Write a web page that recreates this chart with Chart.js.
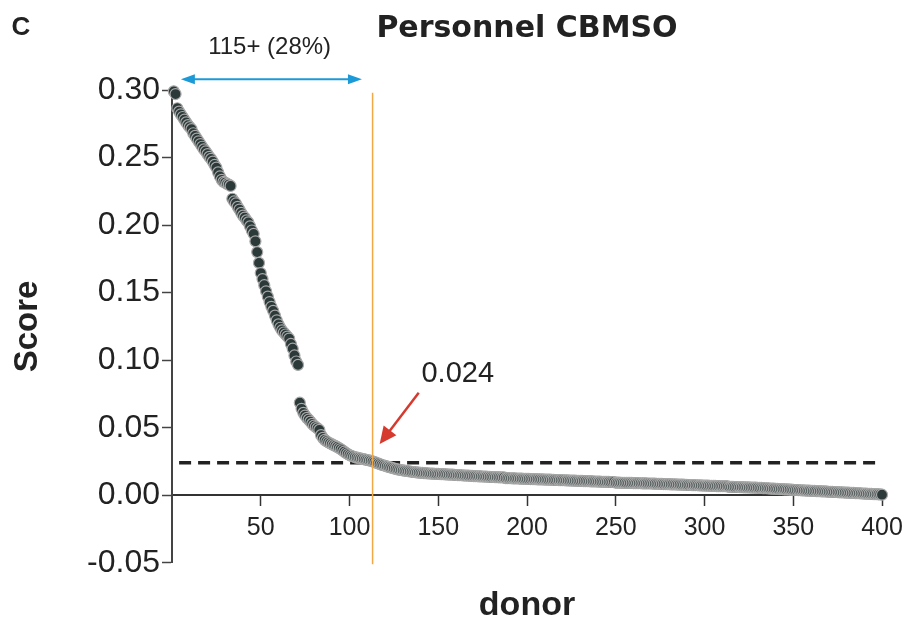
<!DOCTYPE html>
<html>
<head>
<meta charset="utf-8">
<script src="https://cdn.jsdelivr.net/npm/chart.js@4.4.1/dist/chart.umd.min.js"></script>
<style>
  html, body { margin: 0; padding: 0; background: #fff; }
  #wrap { width: 906px; height: 619px; position: relative; }
</style>
</head>
<body>
<div id="wrap"><canvas id="scoreChart"></canvas></div>
<script>
// Score per donor, sorted (donor 1..400)
var scores = [
  0.2990, 0.2970, 0.2865, 0.2840, 0.2820, 0.2800, 0.2780, 0.2760, 0.2740, 0.2725,
  0.2710, 0.2680, 0.2660, 0.2640, 0.2620, 0.2600, 0.2580, 0.2560, 0.2545, 0.2525,
  0.2505, 0.2490, 0.2470, 0.2445, 0.2425, 0.2390, 0.2360, 0.2335, 0.2320, 0.2315,
  0.2305, 0.2300, 0.2290, 0.2195, 0.2175, 0.2160, 0.2135, 0.2115, 0.2090, 0.2070,
  0.2055, 0.2035, 0.2020, 0.1990, 0.1960, 0.1935, 0.1880, 0.1800, 0.1720, 0.1645,
  0.1600, 0.1555, 0.1510, 0.1470, 0.1430, 0.1395, 0.1365, 0.1330, 0.1295, 0.1265,
  0.1240, 0.1220, 0.1205, 0.1190, 0.1175, 0.1160, 0.1120, 0.1085, 0.1035, 0.0990,
  0.0965, 0.0685, 0.0640, 0.0610, 0.0590, 0.0573, 0.0560, 0.0545, 0.0528, 0.0515,
  0.0505, 0.0495, 0.0484, 0.0445, 0.0425, 0.0410, 0.0400, 0.0392, 0.0385, 0.0378,
  0.0371, 0.0365, 0.0358, 0.0350, 0.0342, 0.0333, 0.0323, 0.0313, 0.0305, 0.0298,
  0.0292, 0.0287, 0.0283, 0.0279, 0.0276, 0.0273, 0.0270, 0.0267, 0.0264, 0.0261,
  0.0258, 0.0255, 0.0251, 0.0246, 0.0241, 0.0236, 0.0231, 0.0226, 0.0222, 0.0218,
  0.0214, 0.0210, 0.0206, 0.0202, 0.0198, 0.0195, 0.0192, 0.0189, 0.0187, 0.0184,
  0.0182, 0.0180, 0.0178, 0.0176, 0.0174, 0.0172, 0.0171, 0.0169, 0.0168, 0.0166,
  0.0165, 0.0164, 0.0163, 0.0162, 0.0161, 0.0160, 0.0160, 0.0159, 0.0158, 0.0158,
  0.0157, 0.0156, 0.0156, 0.0155, 0.0154, 0.0153, 0.0153, 0.0152, 0.0151, 0.0150,
  0.0149, 0.0149, 0.0148, 0.0147, 0.0146, 0.0146, 0.0145, 0.0144, 0.0143, 0.0142,
  0.0142, 0.0141, 0.0140, 0.0140, 0.0139, 0.0138, 0.0138, 0.0137, 0.0136, 0.0135,
  0.0135, 0.0134, 0.0134, 0.0133, 0.0133, 0.0132, 0.0132, 0.0127, 0.0127, 0.0126,
  0.0126, 0.0125, 0.0125, 0.0124, 0.0124, 0.0123, 0.0123, 0.0122, 0.0122, 0.0121,
  0.0121, 0.0120, 0.0120, 0.0119, 0.0119, 0.0118, 0.0118, 0.0117, 0.0117, 0.0116,
  0.0116, 0.0115, 0.0115, 0.0114, 0.0114, 0.0113, 0.0113, 0.0112, 0.0112, 0.0111,
  0.0111, 0.0110, 0.0110, 0.0109, 0.0109, 0.0108, 0.0108, 0.0107, 0.0107, 0.0106,
  0.0106, 0.0105, 0.0105, 0.0104, 0.0104, 0.0103, 0.0103, 0.0102, 0.0102, 0.0101,
  0.0101, 0.0100, 0.0100, 0.0099, 0.0099, 0.0099, 0.0098, 0.0098, 0.0098, 0.0093,
  0.0093, 0.0093, 0.0092, 0.0092, 0.0092, 0.0091, 0.0091, 0.0091, 0.0091, 0.0090,
  0.0090, 0.0090, 0.0089, 0.0089, 0.0088, 0.0088, 0.0088, 0.0087, 0.0087, 0.0087,
  0.0086, 0.0086, 0.0085, 0.0085, 0.0084, 0.0084, 0.0083, 0.0083, 0.0082, 0.0082,
  0.0081, 0.0081, 0.0080, 0.0080, 0.0079, 0.0079, 0.0078, 0.0078, 0.0077, 0.0077,
  0.0076, 0.0076, 0.0075, 0.0075, 0.0074, 0.0074, 0.0073, 0.0073, 0.0072, 0.0072,
  0.0071, 0.0071, 0.0070, 0.0070, 0.0069, 0.0069, 0.0068, 0.0068, 0.0068, 0.0067,
  0.0067, 0.0067, 0.0066, 0.0062, 0.0062, 0.0062, 0.0061, 0.0061, 0.0061, 0.0060,
  0.0060, 0.0059, 0.0059, 0.0058, 0.0058, 0.0057, 0.0057, 0.0056, 0.0056, 0.0055,
  0.0054, 0.0054, 0.0053, 0.0052, 0.0052, 0.0051, 0.0050, 0.0049, 0.0049, 0.0048,
  0.0047, 0.0046, 0.0046, 0.0045, 0.0044, 0.0043, 0.0043, 0.0042, 0.0041, 0.0040,
  0.0039, 0.0039, 0.0038, 0.0037, 0.0036, 0.0036, 0.0035, 0.0034, 0.0034, 0.0033,
  0.0032, 0.0032, 0.0031, 0.0030, 0.0030, 0.0029, 0.0028, 0.0028, 0.0027, 0.0026,
  0.0026, 0.0025, 0.0024, 0.0024, 0.0023, 0.0022, 0.0022, 0.0021, 0.0020, 0.0019,
  0.0019, 0.0018, 0.0017, 0.0017, 0.0016, 0.0015, 0.0015, 0.0014, 0.0013, 0.0012,
  0.0012, 0.0011, 0.0010, 0.0010, 0.0009, 0.0008, 0.0008, 0.0007, 0.0006, 0.0004
];
var donors = scores.map(function (s, i) { return i + 1; });

var xTicks = [50, 100, 150, 200, 250, 300, 350, 400];
var yTicks = [-0.05, 0.00, 0.05, 0.10, 0.15, 0.20, 0.25, 0.30];

var cutoffScore = 0.024;   // dashed threshold
var cutoffDonor = 113;     // orange vertical line
var aboveLabel = "115+ (28%)";

var FONT = "'Liberation Sans', Arial, sans-serif";

function arrowHead(ctx, x1, y1, x2, y2, len, half) {
  var a = Math.atan2(y2 - y1, x2 - x1);
  ctx.beginPath();
  ctx.moveTo(x2, y2);
  ctx.lineTo(x2 - len * Math.cos(a) + half * Math.sin(a), y2 - len * Math.sin(a) - half * Math.cos(a));
  ctx.lineTo(x2 - len * Math.cos(a) - half * Math.sin(a), y2 - len * Math.sin(a) + half * Math.cos(a));
  ctx.closePath();
  ctx.fill();
}

// extra marks: threshold line, cutoff line, arrows, labels
var annotations = {
  id: "annotations",
  beforeDatasetsDraw: function (chart) {
    var ctx = chart.ctx, x = chart.scales.x, y = chart.scales.y;
    ctx.save();
    ctx.strokeStyle = "#222";
    ctx.lineWidth = 3.5;
    ctx.setLineDash([12, 7]);
    ctx.beginPath();
    ctx.moveTo(x.getPixelForValue(4), y.getPixelForValue(cutoffScore));
    ctx.lineTo(x.getPixelForValue(400), y.getPixelForValue(cutoffScore));
    ctx.stroke();
    ctx.restore();
  },
  afterDatasetsDraw: function (chart) {
    var ctx = chart.ctx, x = chart.scales.x, y = chart.scales.y;
    ctx.save();

    // orange cutoff line
    ctx.strokeStyle = "#f0a848";
    ctx.lineWidth = 1.5;
    ctx.beginPath();
    ctx.moveTo(x.getPixelForValue(cutoffDonor), y.getPixelForValue(0.298));
    ctx.lineTo(x.getPixelForValue(cutoffDonor), y.getPixelForValue(-0.051));
    ctx.stroke();

    // blue double arrow
    var bx1 = x.getPixelForValue(5), bx2 = x.getPixelForValue(107), by = y.getPixelForValue(0.308);
    ctx.strokeStyle = "#1b9ad7";
    ctx.fillStyle = "#1b9ad7";
    ctx.lineWidth = 2;
    ctx.beginPath();
    ctx.moveTo(bx1 + 10, by);
    ctx.lineTo(bx2 - 10, by);
    ctx.stroke();
    arrowHead(ctx, bx2, by, bx1, by, 14, 5);
    arrowHead(ctx, bx1, by, bx2, by, 14, 5);

    // red arrow to the threshold
    var rx1 = x.getPixelForValue(139), ry1 = y.getPixelForValue(0.0758);
    var rx2 = x.getPixelForValue(117), ry2 = y.getPixelForValue(0.038);
    ctx.strokeStyle = "#d63a2f";
    ctx.fillStyle = "#d63a2f";
    ctx.lineWidth = 2.5;
    ctx.beginPath();
    ctx.moveTo(rx1, ry1);
    ctx.lineTo(rx2 + (rx1 - rx2) * 0.25, ry2 + (ry1 - ry2) * 0.25);
    ctx.stroke();
    arrowHead(ctx, rx1, ry1, rx2, ry2, 17, 8);

    // texts
    ctx.fillStyle = "#222";
    ctx.textAlign = "center";
    ctx.textBaseline = "middle";
    ctx.font = "29px " + FONT;
    ctx.fillText(cutoffScore.toFixed(3), x.getPixelForValue(161), y.getPixelForValue(0.0895));
    ctx.font = "24px " + FONT;
    ctx.fillText(aboveLabel, x.getPixelForValue(55), y.getPixelForValue(0.3313));
    ctx.font = "bold 26px " + FONT;
    ctx.fillText("C", 21, 28);
    ctx.restore();
  }
};

var ctx = document.getElementById("scoreChart").getContext("2d");
var scoreChart = new Chart(ctx, {
  type: "scatter",
  data: {
    datasets: [
      {
        label: "Score",
        data: donors.map(function (d, i) { return { x: d, y: scores[i] }; }),
        backgroundColor: "#2c3939",
        borderColor: "#a9a9a9",
        borderWidth: 1.2,
        pointRadius: 5.5,
        pointHoverRadius: 5.5,
        clip: false,
      },
    ],
  },
  options: {
    responsive: true,
    maintainAspectRatio: false,
    animation: false,
    layout: { padding: { left: 0, right: 24, top: 0, bottom: 0 } },
    plugins: {
      legend: { display: false },
      tooltip: { enabled: false },
      title: {
        display: true,
        text: "Personnel CBMSO",
        fullSize: false,
        color: "#222",
        font: { family: "'DejaVu Sans', sans-serif", size: 30, weight: "bold", lineHeight: 1.2 },
        padding: { top: 11, bottom: 43 },
      },
      subtitle: {
        display: true,
        position: "bottom",
        text: "donor",
        fullSize: false,
        color: "#222",
        font: { family: FONT, size: 34, weight: "bold", lineHeight: 0.8 },
        padding: { top: 29, bottom: 0 },
      },
    },
    scales: {
      x: {
        type: "linear",
        position: { y: 0 },
        min: 0,
        max: 400,
        afterBuildTicks: function (scale) {
          scale.ticks = xTicks.map(function (v) { return { value: v }; });
        },
        afterFit: function (scale) { scale.paddingLeft = 0; scale.paddingRight = 0; },
        ticks: {
          color: "#222",
          font: { family: FONT, size: 25 },
          padding: 8,
          maxRotation: 0,
        },
        grid: { drawOnChartArea: false, drawTicks: true, tickLength: 10, color: "#333", tickWidth: 1.5 },
        border: { display: true, color: "#333", width: 2 },
      },
      y: {
        min: -0.05,
        max: 0.30,
        afterBuildTicks: function (scale) {
          scale.ticks = yTicks.map(function (v) { return { value: v }; });
        },
        afterFit: function (scale) { scale.width = 172; },
        ticks: {
          color: "#222",
          font: { family: FONT, size: 32 },
          padding: 2,
          callback: function (v) { return v.toFixed(2); },
        },
        grid: { drawOnChartArea: false, drawTicks: true, tickLength: 10, color: "#444", tickWidth: 1.5 },
        border: { display: true, color: "#444", width: 2 },
        title: {
          display: true,
          text: "Score",
          color: "#222",
          font: { family: FONT, size: 33, weight: "bold", lineHeight: 1.2 },
          padding: { top: 8, bottom: 0 },
        },
      },
    },
  },
  plugins: [annotations],
});
</script>
</body>
</html>
